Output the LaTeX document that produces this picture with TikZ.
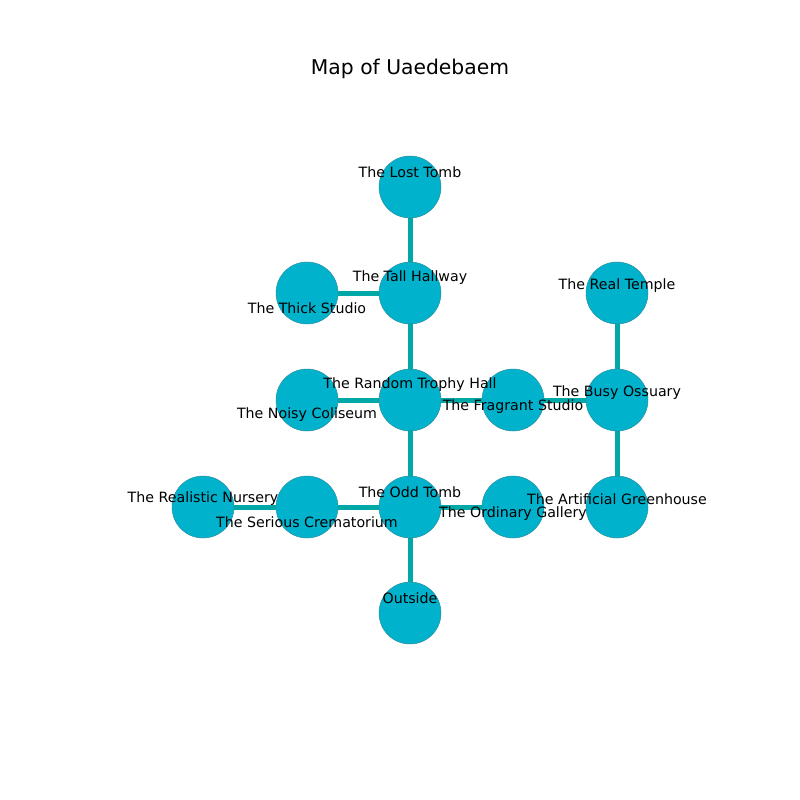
\documentclass[tikz,border=0pt]{standalone}
\usepackage{fontspec}
\setmainfont{DejaVu Sans}
\usetikzlibrary{backgrounds}
\begin{document}
\begin{tikzpicture}[x=1pt,y=-1pt,
  room/.style={circle,draw=nodeedge,line width=0.5pt,fill=nodefill,minimum size=62pt,inner sep=0pt},
  lbl/.style={font=\fontsize{14.2}{16}\selectfont,text=black,inner sep=0pt,yshift=-1pt},
  link/.style={draw=linkcol,line width=5pt}]
\definecolor{nodefill}{HTML}{00B2CC}
\definecolor{nodeedge}{HTML}{2A8FA0}
\definecolor{linkcol}{HTML}{00A8A8}
\useasboundingbox (0,0) rectangle (800,800);
\node[font=\fontsize{20.3}{23}\selectfont] (title) at (410,69) {Map of Uaedebaem};
% nodes
\node[room] (lost) at (410,187) {};
\node[room] (tall) at (410,293) {};
\node[room] (thick) at (307,293) {};
\node[room] (real) at (617,293) {};
\node[room] (random) at (410,400) {};
\node[room] (noisy) at (307,400) {};
\node[room] (fragrant) at (513,400) {};
\node[room] (busy) at (617,400) {};
\node[room] (realistic) at (203,507) {};
\node[room] (serious) at (307,507) {};
\node[room] (odd) at (410,507) {};
\node[room] (ordinary) at (513,507) {};
\node[room] (artificial) at (617,507) {};
\node[room] (outside) at (410,613) {};
% edges
\begin{scope}[on background layer]
\draw[link] (lost.center) -- (tall.center);
\draw[link] (tall.center) -- (thick.center);
\draw[link] (tall.center) -- (random.center);
\draw[link] (random.center) -- (noisy.center);
\draw[link] (random.center) -- (fragrant.center);
\draw[link] (fragrant.center) -- (busy.center);
\draw[link] (busy.center) -- (real.center);
\draw[link] (busy.center) -- (artificial.center);
\draw[link] (random.center) -- (odd.center);
\draw[link] (odd.center) -- (serious.center);
\draw[link] (serious.center) -- (realistic.center);
\draw[link] (odd.center) -- (ordinary.center);
\draw[link] (odd.center) -- (outside.center);
\end{scope}
% labels
\node[lbl] (llost) at (410,171) {The Lost Tomb};
\node[lbl] (ltall) at (410,277) {The Tall Hallway};
\node[lbl] (lthick) at (307,307) {The Thick Studio};
\node[lbl] (lreal) at (617,285) {The Real Temple};
\node[lbl] (lrandom) at (410,384) {The Random Trophy Hall};
\node[lbl] (lnoisy) at (307,414) {The Noisy Coliseum};
\node[lbl] (lfragrant) at (513,406) {The Fragrant Studio};
\node[lbl] (lbusy) at (617,392) {The Busy Ossuary};
\node[lbl] (lrealistic) at (203,498) {The Realistic Nursery};
\node[lbl] (lserious) at (307,521) {The Serious Crematorium};
\node[lbl] (lodd) at (410,491) {The Odd Tomb};
\node[lbl] (lordinary) at (513,513) {The Ordinary Gallery};
\node[lbl] (lartificial) at (617,498) {The Artificial Greenhouse};
\node[lbl] (loutside) at (410,597) {Outside};
\end{tikzpicture}
\end{document}
